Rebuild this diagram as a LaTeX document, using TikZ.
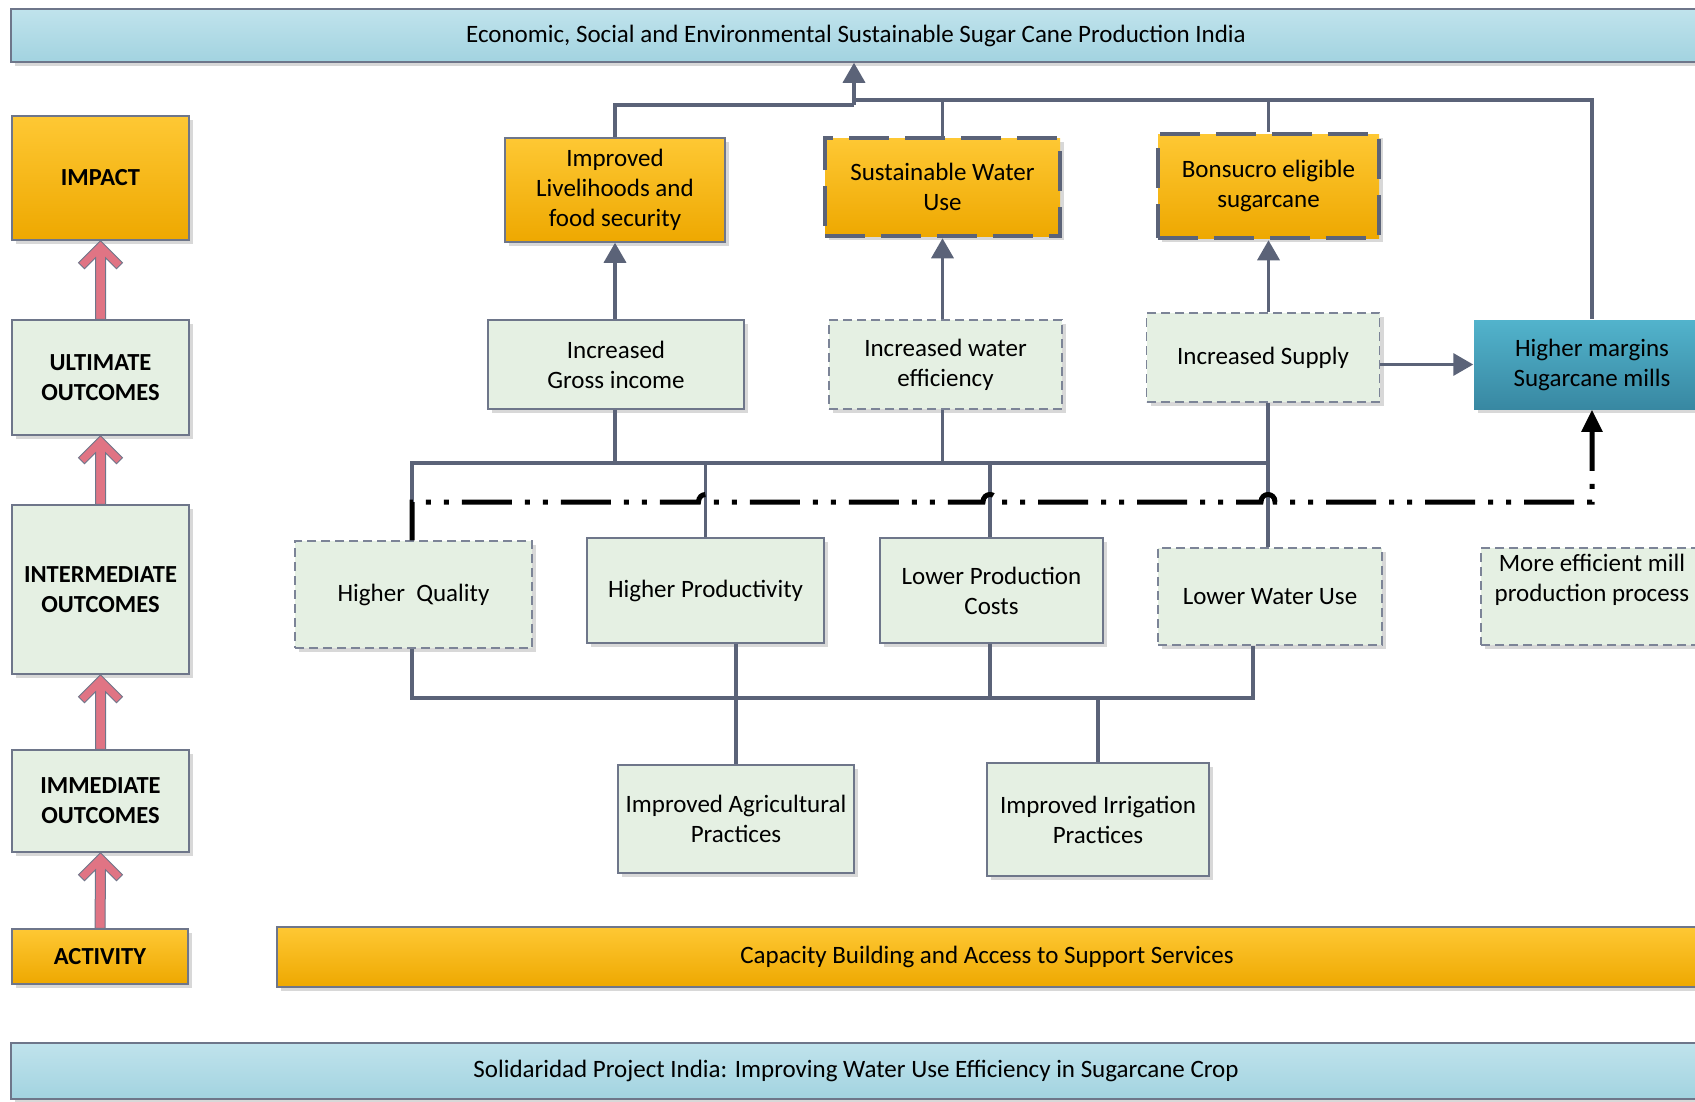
\documentclass[tikz,border=0pt]{standalone}
\usepackage{fontspec}
\setmainfont{Carlito}
\usetikzlibrary{arrows.meta,shadows,calc}
\definecolor{connc}{HTML}{5B6378}
\definecolor{boxline}{HTML}{6E768A}
\definecolor{dashgray}{HTML}{7C8497}
\definecolor{greenfill}{HTML}{E5F0E3}
\definecolor{orTop}{HTML}{FEC834}
\definecolor{orBot}{HTML}{EEA800}
\definecolor{blTop}{HTML}{C0E3EC}
\definecolor{blBot}{HTML}{A2D3E0}
\definecolor{tlTop}{HTML}{52B3CC}
\definecolor{tlBot}{HTML}{3888A2}
\definecolor{pinkc}{HTML}{E07484}
\newcommand\pinkup[2]{%
  \filldraw[pinkarr] (#2.south) -- ++(22,22) -- ++(-6,6) -- ++(-11,-11)
    -- ($(#1.north)+(5,0)$) -- ($(#1.north)+(-5,0)$) -- ($(#2.south)+(-5,17)$)
    -- ++(-11,11) -- ++(-6,-6) -- cycle;}
\begin{document}
\begin{tikzpicture}[x=1pt,y=-1pt,
  box/.style={draw=boxline, line width=1.5pt, align=center, inner sep=2pt,
    font=\fontsize{25}{30}\selectfont,
    drop shadow={shadow xshift=4pt,shadow yshift=-4pt,fill=black!30}},
  greenbox/.style={box, fill=greenfill},
  orangebox/.style={box, top color=orTop, bottom color=orBot},
  bluebar/.style={box, top color=blTop, bottom color=blBot},
  tealbox/.style={box, draw=none, top color=tlTop, bottom color=tlBot},
  dashthin/.style={draw=dashgray, dash pattern=on 9pt off 5pt},
  dashthick/.style={draw=connc, line width=4.5pt, dash pattern=on 40pt off 16pt},
  lvl/.style={font=\bfseries\fontsize{24.5}{30}\selectfont},
  conn/.style={draw=connc, line width=3.5pt},
  tri/.style={-{Triangle[length=20pt,width=22pt]}},
  ddash/.style={draw=black, line width=5pt, dash pattern=on 50pt off 13pt on 5pt off 13pt on 5pt off 13pt, dash phase=11pt},
  pinkarr/.style={fill=pinkc, draw=boxline, line width=1pt},
]
\useasboundingbox (0,0) rectangle (1695,1101);

% banners
\node[bluebar, minimum width=1690pt, minimum height=53pt] (top) at (856,35.5)
  {Economic, Social and Environmental Sustainable Sugar Cane Production India};
\node[bluebar, minimum width=1690pt, minimum height=56pt] (bottom) at (856,1071)
  {Solidaridad Project India: Improving Water Use Efficiency in Sugarcane Crop};
\node[orangebox, minimum width=1420pt, minimum height=60pt] (cap) at (987,957)
  {Capacity Building and Access to Support Services};

% left column
\node[orangebox, lvl, minimum width=177pt, minimum height=124pt] (impact) at (100.5,178) {IMPACT};
\node[greenbox, lvl, minimum width=177pt, minimum height=115pt] (ult) at (100.5,377.5) {ULTIMATE\\OUTCOMES};
\node[greenbox, lvl, minimum width=177pt, minimum height=169pt] (inter) at (100.5,589.5) {INTERMEDIATE\\OUTCOMES};
\node[greenbox, lvl, minimum width=177pt, minimum height=102pt] (imm) at (100.5,801) {IMMEDIATE\\OUTCOMES};
\node[orangebox, lvl, minimum width=176pt, minimum height=55pt] (act) at (100,956.5) {ACTIVITY};

\pinkup{ult}{impact}
\pinkup{inter}{ult}
\pinkup{imm}{inter}
\pinkup{act}{imm}

% impact row
\node[orangebox, minimum width=220pt, minimum height=104pt] (liv) at (615,190) {Improved\\Livelihoods and\\food security};
\node[orangebox, dashthick, minimum width=235pt, minimum height=98pt] (swu) at (942.5,187) {Sustainable Water\\Use};
\node[orangebox, dashthick, minimum width=221pt, minimum height=104pt] (bon) at (1268.5,186) {Bonsucro eligible\\sugarcane};

% ultimate row
\node[greenbox, minimum width=256pt, minimum height=89pt] (gross) at (616,364.5) {Increased\\Gross income};
\node[greenbox, dashthin, minimum width=233pt, minimum height=89pt] (weff) at (945.5,364.5) {Increased water\\efficiency};
\node[greenbox, dashthin, minimum width=233pt, minimum height=89pt] (sup) at (1263,357.5) {Increased Supply};
\node[tealbox, minimum width=236pt, minimum height=89pt] (hm) at (1592,364.5) {Higher margins\\Sugarcane mills};

% intermediate row
\node[greenbox, dashthin, minimum width=237pt, minimum height=107pt] (hq) at (413.5,594.5) {Higher\ \ Quality};
\node[greenbox, minimum width=237pt, minimum height=105pt] (hp) at (705.5,590.5) {Higher Productivity};
\node[greenbox, minimum width=223pt, minimum height=105pt] (lpc) at (991.5,590.5) {Lower Production\\Costs};
\node[greenbox, dashthin, minimum width=224pt, minimum height=97pt] (lwu) at (1270,596.5) {Lower Water Use};
\node[greenbox, dashthin, minimum width=222pt, minimum height=97pt] (mem) at (1592,596.5) {More efficient mill\\production process\\[7pt]\mbox{}};

% immediate row
\node[greenbox, minimum width=236pt, minimum height=108pt] (iap) at (736,819) {Improved Agricultural\\Practices};
\node[greenbox, minimum width=222pt, minimum height=113pt] (iip) at (1098,819.5) {Improved Irrigation\\Practices};

% junction coordinates
\coordinate (jL) at (854,105);
\coordinate (jR) at (1592,100);
\coordinate (b1L) at (412,463);
\coordinate (b1R) at (1268,463);
\coordinate (b2L) at (412,698);
\coordinate (b2R) at (1253,698);
\coordinate (ddL) at (412,502);
\coordinate (ddR) at (1592,502);

% top connectors
\draw[conn] (liv.north) |- (jL);
\draw[conn, tri] (jL) -- (top.south -| jL);
\draw[conn] (jL |- jR) -- (jR) -- (hm.north -| jR);
\draw[conn] (swu.north) -- (swu.north |- jR);
\draw[conn] (bon.north) -- (bon.north |- jR);

% arrows ultimate -> impact
\draw[conn, tri] (liv.south |- gross.north) -- (liv.south);
\draw[conn, tri] (swu.south |- weff.north) -- (swu.south);
\draw[conn, tri] (bon.south |- sup.north) -- (bon.south);
\draw[conn, tri] (sup.east |- hm.west) -- (hm.west);

% bus 1
\draw[conn] (hq.north -| b1L) -- (b1L) -- (b1R);
\draw[conn] (liv.south |- gross.south) -- (liv.south |- b1L);
\draw[conn] (swu.south |- weff.south) -- (swu.south |- b1L);
\draw[conn] (b1R |- sup.south) -- (b1R |- lwu.north);
\draw[conn] (hp.north) -- (hp.north |- b1L);
\draw[conn] (lpc.north -| 990,0) -- (b1L -| 990,0);

% bus 2
\draw[conn] (hq.south -| b2L) -- (b2L) -- (b2R) -- (b2R |- lwu.south);
\draw[conn] (iap.north |- hp.south) -- (iap.north);
\draw[conn] (lpc.south -| 990,0) -- (b2L -| 990,0);
\draw[conn] (iip.north) -- (iip.north |- b2L);

% dash-dot connector
\draw[ddash, -{Triangle[length=22pt,width=20pt]}]
  (ddL |- hq.north) -- (ddL)
  -- ($(hp.north |- ddL)+(-7,0)$) .. controls ($(hp.north |- ddL)+(-7,-10)$) and ($(hp.north |- ddL)+(7,-10)$) .. ($(hp.north |- ddL)+(7,0)$)
  -- ($(990,0 |- ddL)+(-7,0)$) .. controls ($(990,0 |- ddL)+(-7,-10)$) and ($(990,0 |- ddL)+(7,-10)$) .. ($(990,0 |- ddL)+(7,0)$)
  -- ($(b1R |- ddL)+(-7,0)$) .. controls ($(b1R |- ddL)+(-7,-10)$) and ($(b1R |- ddL)+(7,-10)$) .. ($(b1R |- ddL)+(7,0)$)
  -- (ddR) -- (hm.south);
\end{tikzpicture}
\end{document}
